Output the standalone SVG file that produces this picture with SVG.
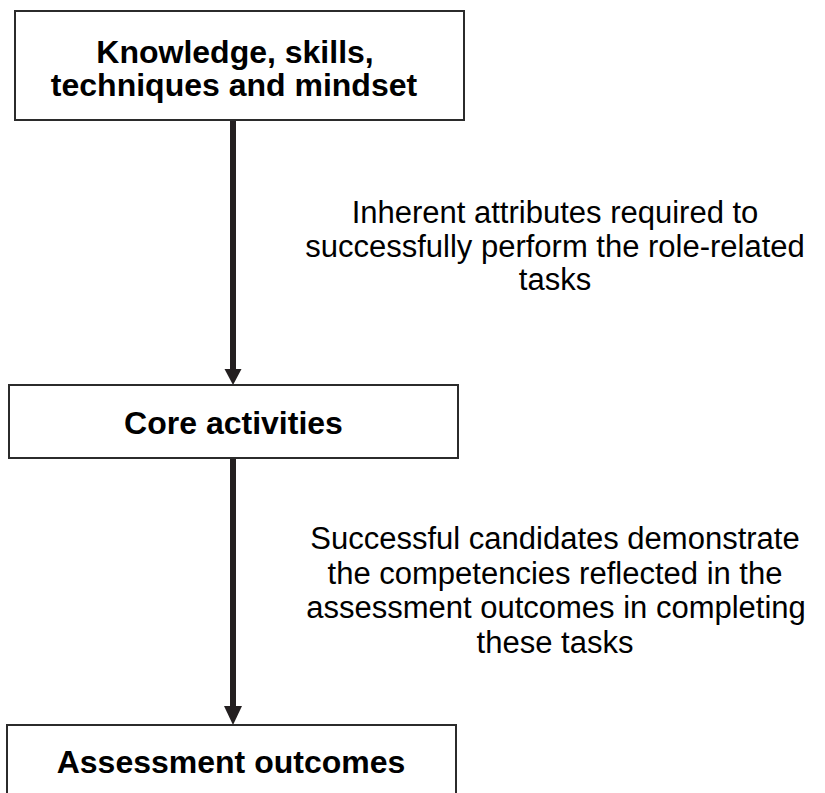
<svg xmlns="http://www.w3.org/2000/svg" width="825" height="793" viewBox="0 0 825 793">
<style>
.box{fill:#fff;stroke:#2b2b2b;stroke-width:2}
.title{font-family:"Liberation Sans",Arial,sans-serif;font-weight:bold;font-size:32px;fill:#000;text-anchor:middle}
.lbl{font-family:"Liberation Sans",Arial,sans-serif;font-size:31px;fill:#000;text-anchor:middle}
.conn{stroke:#231f20;stroke-width:6;fill:none}
.head{fill:#231f20}
</style>
<rect width="825" height="793" fill="#fff"/>
<g id="connectors">
<line class="conn" x1="233" y1="120" x2="233" y2="371"/>
<polygon class="head" points="224.5,369 241.5,369 233,385"/>
<line class="conn" x1="233" y1="458" x2="233" y2="708"/>
<polygon class="head" points="224,706 242,706 233,725"/>
<text class="lbl" x="555" y="223">Inherent attributes required to</text>
<text class="lbl" x="555" y="257">successfully perform the role-related</text>
<text class="lbl" x="555" y="290">tasks</text>
<text class="lbl" x="555" y="549">Successful candidates demonstrate</text>
<text class="lbl" x="555" y="583.5">the competencies reflected in the</text>
<text class="lbl" x="556" y="618">assessment outcomes in completing</text>
<text class="lbl" x="555" y="652.5">these tasks</text>
</g>
<g id="node-knowledge">
<rect class="box" x="15" y="11" width="449" height="109"/>
<text class="title" x="235" y="63">Knowledge, skills,</text>
<text class="title" x="234" y="96">techniques and mindset</text>
</g>
<g id="node-core">
<rect class="box" x="9" y="385" width="449" height="73"/>
<text class="title" x="233.5" y="434">Core activities</text>
</g>
<g id="node-assessment">
<path class="box" d="M7,800 V725 H456 V800"/>
<text class="title" x="231" y="773">Assessment outcomes</text>
</g>
</svg>
